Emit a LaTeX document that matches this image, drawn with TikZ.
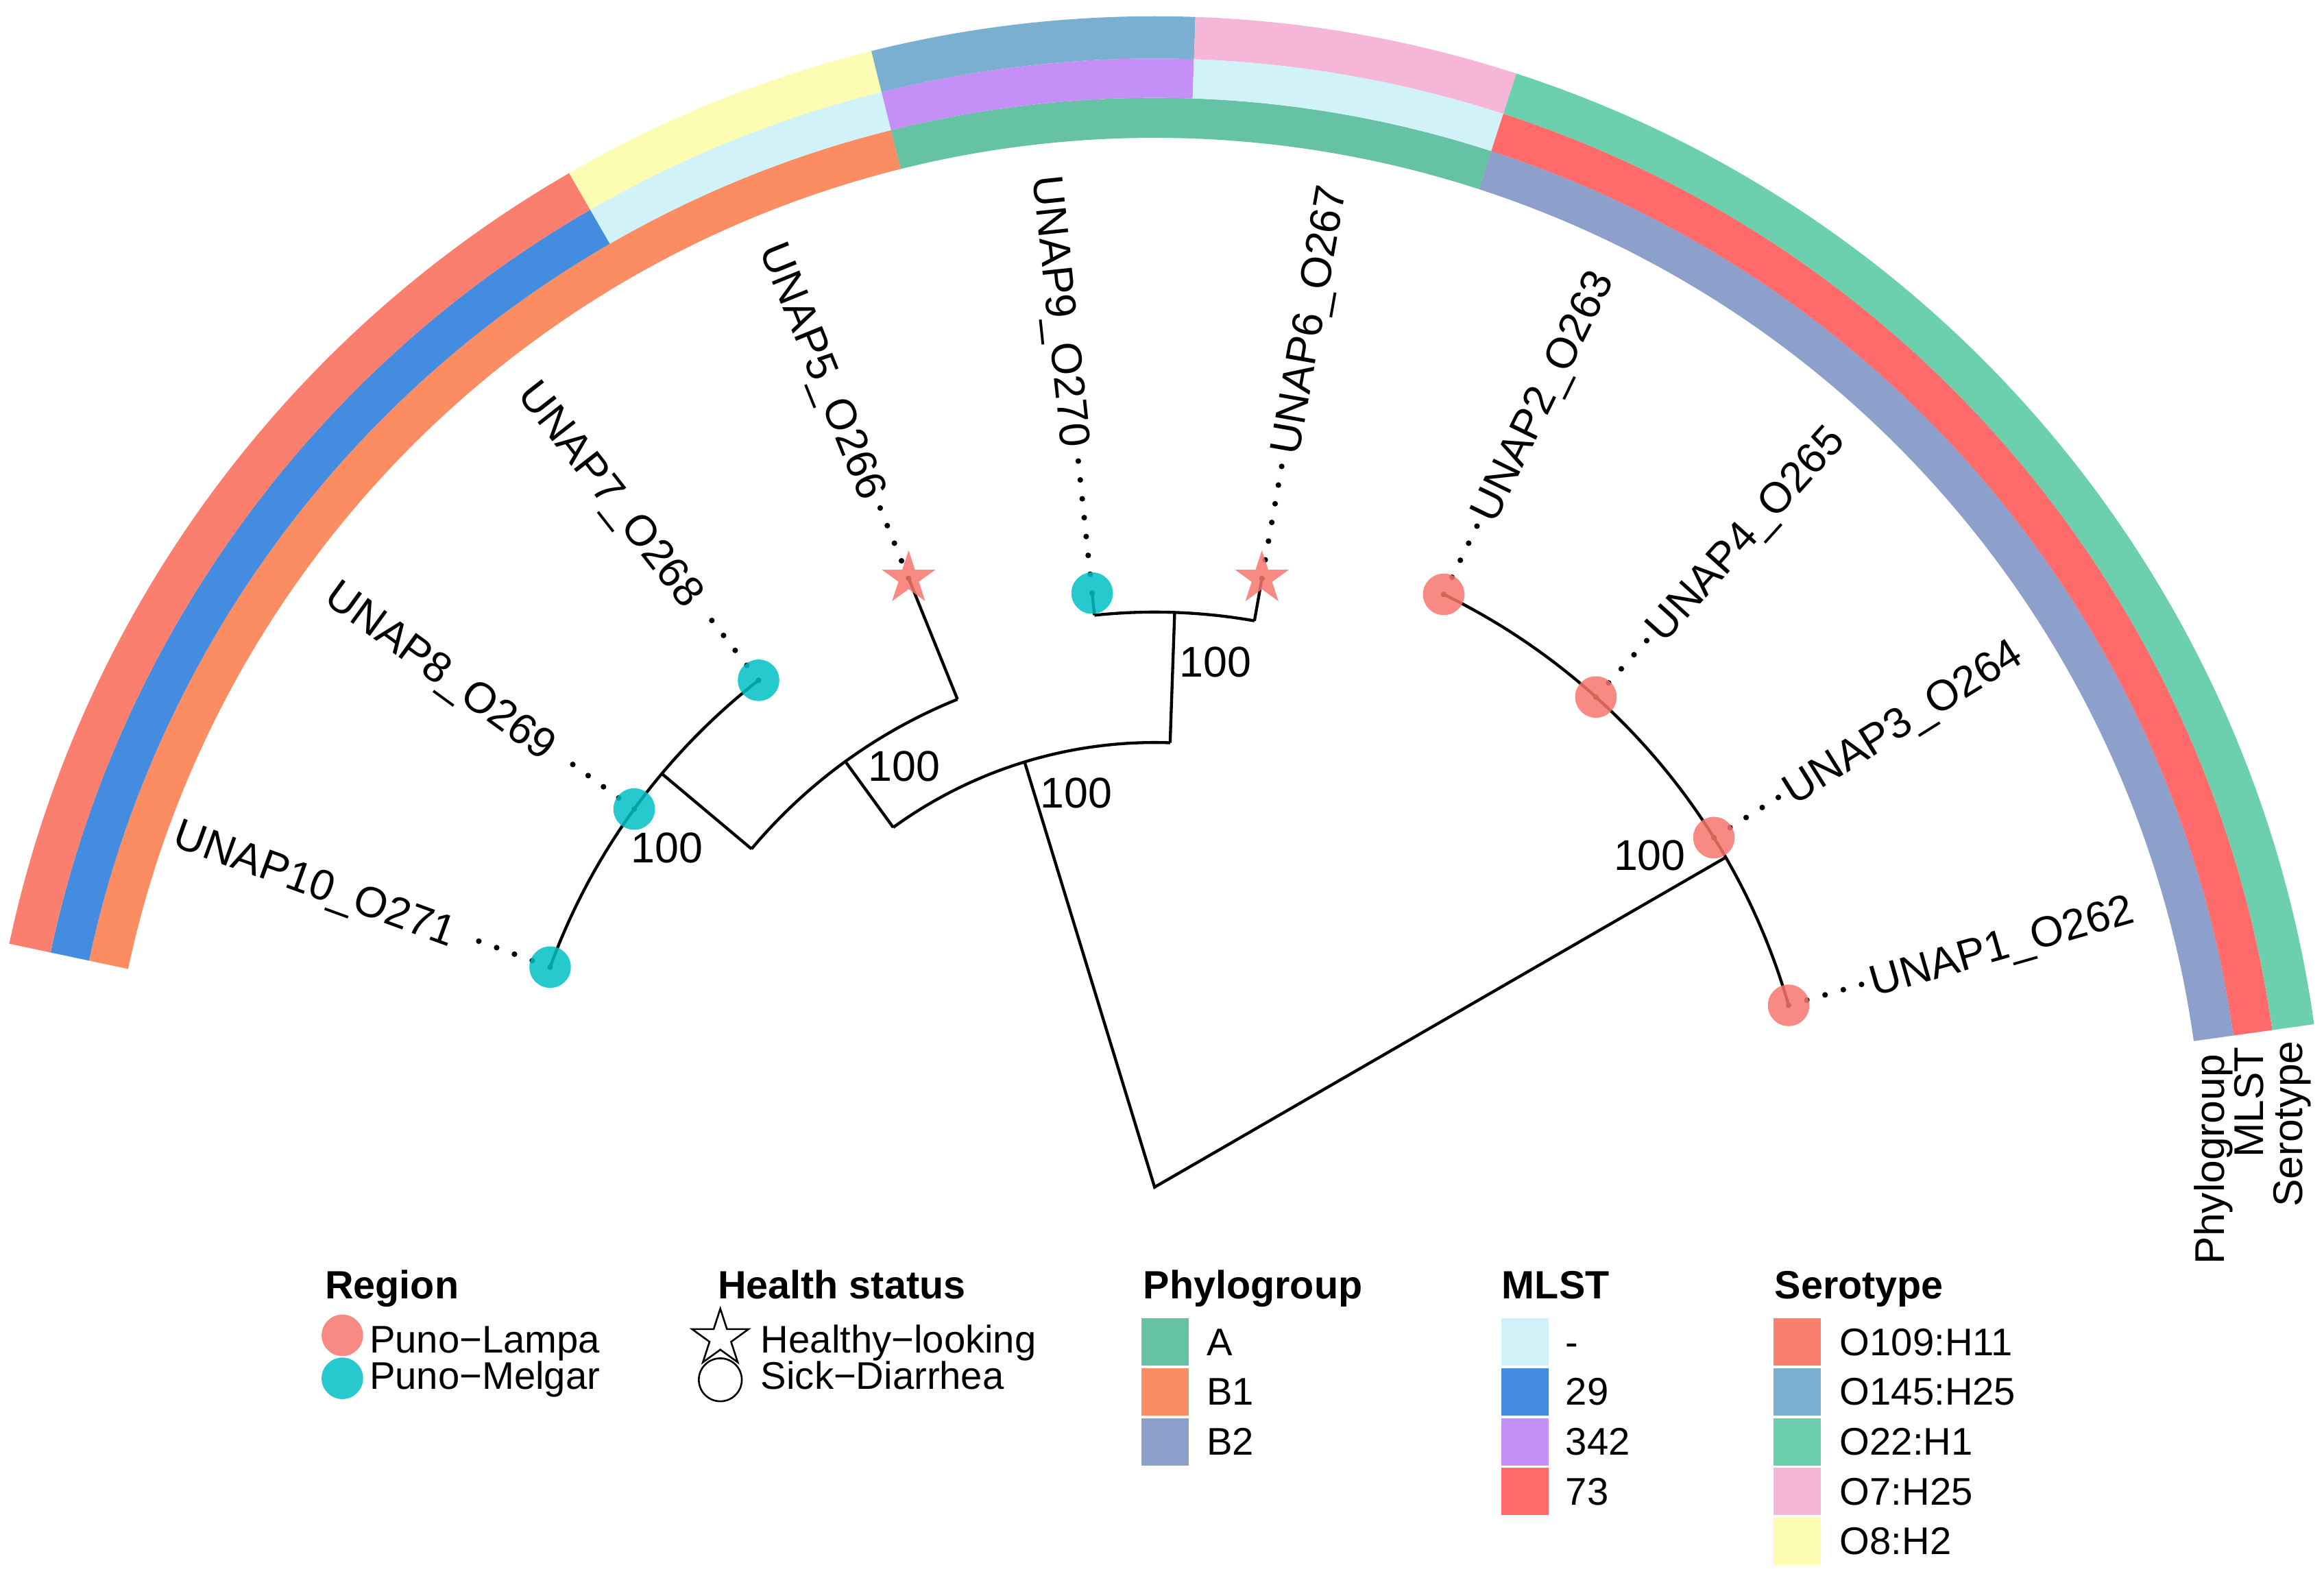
\documentclass[tikz,border=0pt]{standalone}
\usepackage{fontspec}
\setmainfont{Liberation Sans}
\usetikzlibrary{shapes.geometric}
\definecolor{lampa}{HTML}{F8766D}
\definecolor{melgar}{HTML}{00BFC4}
\definecolor{phA}{HTML}{66C2A5}
\definecolor{phBone}{HTML}{FC8D62}
\definecolor{phBtwo}{HTML}{8DA0CB}
\definecolor{mlNA}{HTML}{D1F2F9}
\definecolor{mlA}{HTML}{438CE0}
\definecolor{mlB}{HTML}{C490F8}
\definecolor{mlC}{HTML}{FF6A6A}
\definecolor{seA}{HTML}{FA7F6F}
\definecolor{seB}{HTML}{7BAFD2}
\definecolor{seC}{HTML}{6CCFAE}
\definecolor{seD}{HTML}{F6B6D7}
\definecolor{seE}{HTML}{FCFDB2}
\newcommand{\ringtile}[5]{\fill[#5] (#3:#1) arc[start angle=#3,end angle=#4,radius=#1] -- (#4:#2) arc[start angle=#4,end angle=#3,radius=#2] -- cycle;}
\begin{document}
\begin{tikzpicture}[x=0.5pt,y=0.5pt,
  branch/.style={line width=1pt, black},
  leader/.style={line width=1.9pt, line cap=round, dash pattern=on 0pt off 6.4pt},
  tiplab/.style={font=\fontsize{14.5}{14.5}\selectfont, inner sep=0pt, text height=10.4pt, text depth=0pt},
  boot/.style={font=\fontsize{14.5}{14.5}\selectfont, inner sep=0pt},
  ringlab/.style={font=\fontsize{14}{14}\selectfont, inner sep=0pt, text height=10pt, text depth=2.9pt},
  dotlampa/.style={circle, fill=lampa, fill opacity=0.85, minimum size=14pt, inner sep=0pt},
  dotmelgar/.style={circle, fill=melgar, fill opacity=0.85, minimum size=14pt, inner sep=0pt},
  starlampa/.style={star, star points=5, star point ratio=2.618, fill=lampa, fill opacity=0.85, minimum size=19pt, inner sep=0pt},
  legtitle/.style={font=\fontsize{13.3}{13.3}\selectfont\bfseries, inner sep=0pt},
  legtext/.style={font=\fontsize{13}{13}\selectfont, inner sep=0pt},
  legdot/.style={circle, fill opacity=0.85, minimum size=14pt, inner sep=0pt},
  keybox/.style={rectangle, minimum width=16pt, minimum height=16pt, inner sep=0pt}
]
\useasboundingbox (-779,-262) rectangle (789,801);

% ---------- rings ----------
\ringtile{708}{735}{104}{168}{phBone}
\ringtile{708}{735}{72}{104}{phA}
\ringtile{708}{735}{8}{72}{phBtwo}
\ringtile{735}{761.5}{120}{168}{mlA}
\ringtile{735}{761.5}{104}{120}{mlNA}
\ringtile{735}{761.5}{88}{104}{mlB}
\ringtile{735}{761.5}{72}{88}{mlNA}
\ringtile{735}{761.5}{8}{72}{mlC}
\ringtile{761.5}{790}{120}{168}{seA}
\ringtile{761.5}{790}{104}{120}{seE}
\ringtile{761.5}{790}{88}{104}{seB}
\ringtile{761.5}{790}{72}{88}{seD}
\ringtile{761.5}{790}{8}{72}{seC}

\node[ringlab, rotate=90, anchor=east] (rlPhy) at (714.5,90) {Phylogroup};
\node[ringlab, rotate=90, anchor=east] (rlMlst) at (741,95) {MLST};
\node[ringlab, rotate=90, anchor=east] (rlSero) at (767.2,99) {Serotype};

% ---------- tree coordinates ----------
\coordinate (root) at (0,0);
\coordinate (A) at (107:300);
\coordinate (B) at (88:388);
\coordinate (C) at (126:355);
\coordinate (D) at (140:434);
\coordinate (F) at (30:445);
\coordinate (p10) at (160:434);
\coordinate (p8) at (144:434);
\coordinate (p7) at (128:434);
\coordinate (p5) at (112:443);
\coordinate (p9) at (96:403);
\coordinate (p6) at (80:417);
\coordinate (p2) at (64:445);
\coordinate (p4) at (48:445);
\coordinate (p3) at (32:445);
\coordinate (p1) at (16:445);

% ---------- branches ----------
\draw[branch] (A) -- (root) -- (F);
\draw[branch] (88:300) arc[start angle=88, end angle=126, radius=300];
\draw[branch] (88:300) -- (B);
\draw[branch] (126:300) -- (C);
\draw[branch] (80:388) arc[start angle=80, end angle=96, radius=388];
\draw[branch] (96:388) -- (p9);
\draw[branch] (80:388) -- (p6);
\draw[branch] (112:355) arc[start angle=112, end angle=140, radius=355];
\draw[branch] (112:355) -- (p5);
\draw[branch] (140:355) -- (D);
\draw[branch] (p7) arc[start angle=128, end angle=160, radius=434];
\draw[branch] (p1) arc[start angle=16, end angle=64, radius=445];

% ---------- leaders ----------
\foreach \t/\a in {p10/160,p8/144,p7/128,p5/112,p9/96,p6/80,p2/64,p4/48,p3/32,p1/16}{
  \coordinate (e\t) at (\a:497);
  \draw[leader] (\t) -- (e\t);
}

% ---------- tip markers ----------
\node[dotmelgar] (t10) at (p10) {};
\node[dotmelgar] (t8) at (p8) {};
\node[dotmelgar] (t7) at (p7) {};
\node[starlampa] (t5) at (p5) {};
\node[dotmelgar] (t9) at (p9) {};
\node[starlampa] (t6) at (p6) {};
\node[dotlampa] (t2) at (p2) {};
\node[dotlampa] (t4) at (p4) {};
\node[dotlampa] (t3) at (p3) {};
\node[dotlampa] (t1) at (p1) {};

% ---------- tip labels ----------
\node[tiplab, rotate=-20, anchor=east] (n10) at (160:502) {UNAP10\_O271};
\node[tiplab, rotate=-36, anchor=east] (n8) at (144:502) {UNAP8\_O269};
\node[tiplab, rotate=-52, anchor=east] (n7) at (128:502) {UNAP7\_O268};
\node[tiplab, rotate=-68, anchor=east] (n5) at (112:502) {UNAP5\_O266};
\node[tiplab, rotate=-84, anchor=east] (n9) at (96:502) {UNAP9\_O270};
\node[tiplab, rotate=80, anchor=west] (n6) at (80:502) {UNAP6\_O267};
\node[tiplab, rotate=64, anchor=west] (n2) at (64:502) {UNAP2\_O263};
\node[tiplab, rotate=48, anchor=west] (n4) at (48:502) {UNAP4\_O265};
\node[tiplab, rotate=32, anchor=west] (n3) at (32:502) {UNAP3\_O264};
\node[tiplab, rotate=16, anchor=west] (n1) at (16:502) {UNAP1\_O262};

% ---------- bootstrap ----------
\node[boot] (bB) at (41,354) {100};
\node[boot] (bC) at (-169,284) {100};
\node[boot] (bA) at (-53,266) {100};
\node[boot] (bF) at (334,224) {100};
\node[boot] (bE) at (-329,229) {100};

% ---------- legend ----------
\begin{scope}[shift={(-779,801)}, yscale=-1]
  \node[legtitle, anchor=base west] (tRegion) at (219,876.5) {Region};
  \node[legdot, fill=lampa] (kLampa) at (231,901) {};
  \node[legdot, fill=melgar] (kMelgar) at (231,930) {};
  \node[legtext, anchor=base west] (xLampa) at (249,913) {Puno−Lampa};
  \node[legtext, anchor=base west] (xMelgar) at (249,937.5) {Puno−Melgar};

  \node[legtitle, anchor=base west] (tHealth) at (484,876.5) {Health status};
  \node[star, star points=5, star point ratio=2.618, draw=black, fill=white, line width=0.6pt, minimum size=20pt, inner sep=0pt] (kHealthy) at (486,903) {};
  \node[circle, draw=black, line width=0.6pt, minimum size=14.5pt, inner sep=0pt] (kSick) at (486,931) {};
  \node[legtext, anchor=base west] (xHealthy) at (513,913) {Healthy−looking};
  \node[legtext, anchor=base west] (xSick) at (513,937.5) {Sick−Diarrhea};

  \node[legtitle, anchor=base west] (tPhy) at (771,876.5) {Phylogroup};
  \node[keybox, fill=phA] (kA) at (786,905.6) {};
  \node[keybox, fill=phBone] (kB1) at (786,939.2) {};
  \node[keybox, fill=phBtwo] (kB2) at (786,972.8) {};
  \node[legtext, anchor=base west] (xA) at (813.7,914.6) {A};
  \node[legtext, anchor=base west] (xB1) at (813.7,948.2) {B1};
  \node[legtext, anchor=base west] (xB2) at (813.7,981.8) {B2};

  \node[legtitle, anchor=base west] (tMlst) at (1013,876.5) {MLST};
  \node[keybox, fill=mlNA] (kNA) at (1028.75,905.6) {};
  \node[keybox, fill=mlA] (k29) at (1028.75,939.2) {};
  \node[keybox, fill=mlB] (k342) at (1028.75,972.8) {};
  \node[keybox, fill=mlC] (k73) at (1028.75,1006.4) {};
  \node[legtext, anchor=base west] (xNA) at (1056,914.6) {-};
  \node[legtext, anchor=base west] (x29) at (1056,948.2) {29};
  \node[legtext, anchor=base west] (x342) at (1056,981.8) {342};
  \node[legtext, anchor=base west] (x73) at (1056,1015.4) {73};

  \node[legtitle, anchor=base west] (tSero) at (1197,876.5) {Serotype};
  \node[keybox, fill=seA] (kSA) at (1212.5,905.6) {};
  \node[keybox, fill=seB] (kSB) at (1212.5,939.2) {};
  \node[keybox, fill=seC] (kSC) at (1212.5,972.8) {};
  \node[keybox, fill=seD] (kSD) at (1212.5,1006.4) {};
  \node[keybox, fill=seE] (kSE) at (1212.5,1040) {};
  \node[legtext, anchor=base west] (xSA) at (1241,914.6) {O109:H11};
  \node[legtext, anchor=base west] (xSB) at (1241,948.2) {O145:H25};
  \node[legtext, anchor=base west] (xSC) at (1241,981.8) {O22:H1};
  \node[legtext, anchor=base west] (xSD) at (1241,1015.4) {O7:H25};
  \node[legtext, anchor=base west] (xSE) at (1241,1049) {O8:H2};
\end{scope}
\end{tikzpicture}
\end{document}
